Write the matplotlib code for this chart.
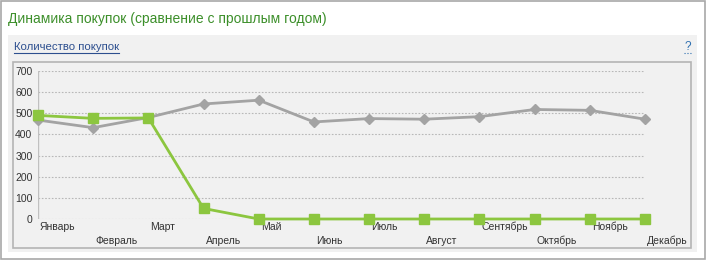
import matplotlib
matplotlib.use("Agg")
import matplotlib.pyplot as plt
from matplotlib.patches import Rectangle

months = ['Январь', 'Февраль', 'Март', 'Апрель', 'Май', 'Июнь',
          'Июль', 'Август', 'Сентябрь', 'Октябрь', 'Ноябрь', 'Декабрь']
last_year = [468, 432, 480, 544, 562, 459, 475, 472, 484, 518, 514, 472]
this_year = [490, 476, 478, 50, 0, 0, 0, 0, 0, 0, 0, 0]
y_ticks = [0, 100, 200, 300, 400, 500, 600, 700]

W, H = 706, 261
plt.rcParams['font.family'] = ['Liberation Sans', 'DejaVu Sans']

fig = plt.figure(figsize=(W / 100, H / 100), dpi=100)
fig.patch.set_facecolor('white')


def box(x0, y0, x1, y1, **kw):
    """rectangle given in pixel coords from top-left"""
    fig.patches.append(Rectangle((x0 / W, 1 - y1 / H), (x1 - x0) / W, (y1 - y0) / H,
                                 transform=fig.transFigure, zorder=0, **kw))


# outer frame, grey panel, inner chart box
box(1, 0.5, 704.5, 258.5, facecolor='white', edgecolor='#a8a8a8', lw=1.2)
box(8, 35, 697, 252, facecolor='#f1f1f1', edgecolor='none')
box(13, 62, 690.5, 248, facecolor='#f1f1f1', edgecolor='#b4b4b4', lw=1.2)

fig.text(8 / W, 1 - 19 / H, 'Динамика покупок (сравнение с прошлым годом)',
         color='#3c8f2a', fontsize=10, va='center', ha='left')
fig.text(14 / W, 1 - 47 / H, 'Количество покупок', color='#2d4f8f',
         fontsize=8.2, va='center', ha='left')
fig.add_artist(plt.Line2D([14 / W, 119 / W], [1 - 53 / H, 1 - 53 / H],
                          color='#2d4f8f', lw=0.8, transform=fig.transFigure))
fig.text(688 / W, 1 - 47 / H, '?', color='#2d6fb0', fontsize=8.5,
         va='center', ha='center')
fig.add_artist(plt.Line2D([684 / W, 692 / W], [1 - 53 / H, 1 - 53 / H],
                          color='#2d6fb0', lw=0.8, ls=':', transform=fig.transFigure))

# plot area: Jan..Dec at x 38..645 px, 0..700 at y 219..71 px
ax = fig.add_axes([38 / W, 1 - 219 / H, (645 - 38) / W, (219 - 71) / H])
ax.set_zorder(5)
ax.set_facecolor('none')
ax.set_xlim(0, 11)
ax.set_ylim(0, 700)
for s in ax.spines.values():
    s.set_visible(False)
ax.axvline(0, color='#c0c0c0', lw=1)

for v in y_ticks:
    ax.axhline(v, color='#b8b8b8', lw=0.8, ls=(0, (1.5, 1.5)), zorder=1)
ax.set_yticks(y_ticks)
ax.set_yticklabels([str(v) for v in y_ticks], fontsize=7.5, color='#333333')
ax.tick_params(axis='y', length=0, pad=4)
ax.set_xticks([])

x = list(range(len(months)))
ax.plot(x, last_year, color='#a3a3a3', lw=2, marker='D', markersize=5.5,
        markerfacecolor='#a3a3a3', markeredgecolor='#a3a3a3', clip_on=False, zorder=3)
ax.plot(x, this_year, color='#8cc63f', lw=2, marker='s', markersize=7,
        markerfacecolor='#8cc63f', markeredgecolor='#8cc63f', clip_on=False, zorder=4)

for i, m in enumerate(months):
    off = -8 if i % 2 == 0 else -22
    ax.annotate(m, xy=(i, 0), xycoords=('data', 'axes fraction'),
                xytext=(2, off), textcoords='offset pixels',
                ha='left', va='center', fontsize=7.5, color='#333333')

fig.savefig('out.png', dpi=100)
